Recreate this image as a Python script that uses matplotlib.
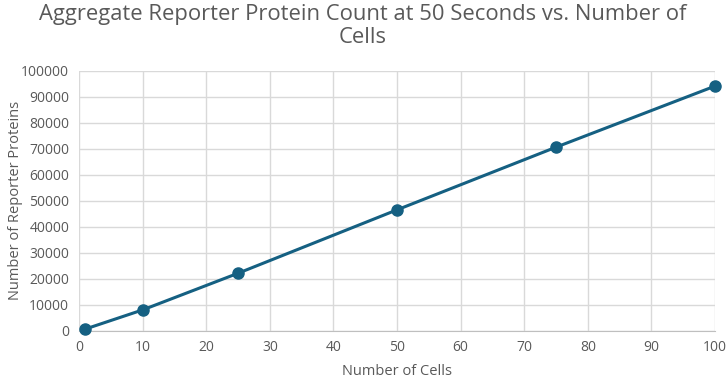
import numpy as np
import matplotlib.pyplot as plt

# number of cells vs aggregate reporter proteins at t = 50 s
cells = [1, 10, 25, 50, 75, 100]
proteins = [650, 8000, 22100, 46500, 70600, 94100]

xticks = np.arange(0, 101, 10)
yticks = np.arange(0, 100001, 10000)

plt.rcParams['font.family'] = ['Open Sans', 'DejaVu Sans']
txt = '#595959'
grid = '#d9d9d9'

fig = plt.figure(figsize=(7.26, 3.79), dpi=100)
ax = fig.add_axes([0.1088, 0.1274, 0.8762, 0.686])

ax.plot(cells, proteins, color='#156082', lw=2.2, marker='o', ms=8, zorder=3, clip_on=False)

ax.set_xlim(0, 100)
ax.set_ylim(0, 100000)
ax.set_xticks(xticks)
ax.set_yticks(yticks)
ax.grid(True, color=grid, lw=1)
ax.set_axisbelow(True)
for s in ['top', 'right', 'left']:
    ax.spines[s].set_visible(False)
ax.spines['bottom'].set_color('#bfbfbf')
ax.tick_params(length=0, labelsize=10, colors=txt, pad=7)

ax.set_xlabel('Number of Cells', fontsize=10.5, color=txt, labelpad=6)
ax.set_ylabel('Number of Reporter Proteins', fontsize=10.5, color=txt)
ax.yaxis.set_label_coords(-0.088, 0.5)
fig.suptitle('Aggregate Reporter Protein Count at 50 Seconds vs. Number of\nCells',
             fontsize=15.8, color=txt, y=0.99, linespacing=1.15)

plt.savefig('out.png', dpi=100)
